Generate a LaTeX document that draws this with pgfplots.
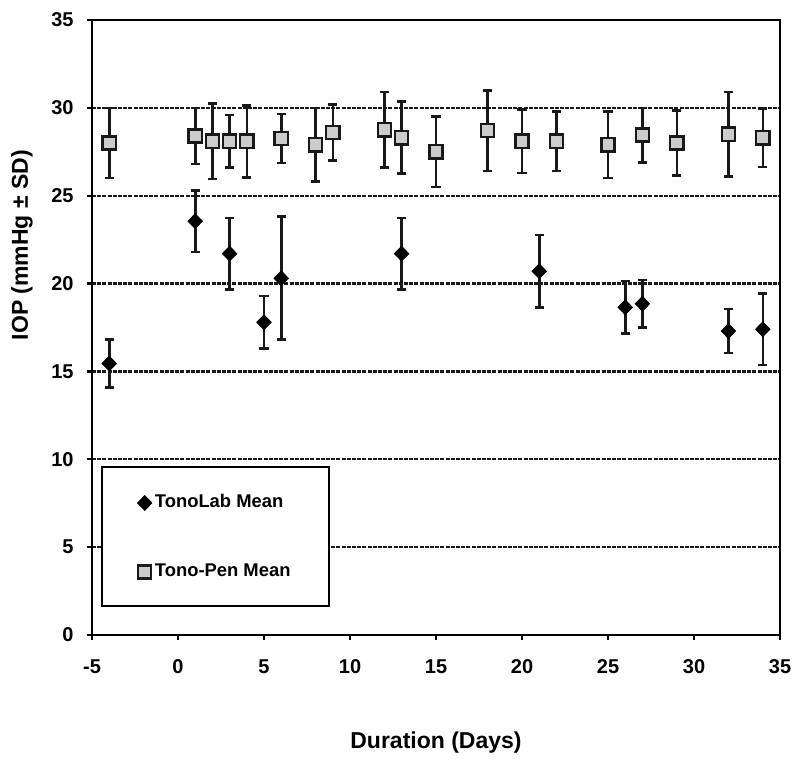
\documentclass[border=0pt]{standalone}
\usepackage{pgfplots}
\pgfplotsset{compat=1.18}
\usepackage{pgfplotstable}
\usepackage{fontspec}
\setmainfont{Liberation Sans}

\pgfplotstableread{
x y e
-4 15.45 1.35
1 23.55 1.75
3 21.7 2.03
5 17.8 1.5
6 20.3 3.5
13 21.7 2.03
21 20.7 2.07
26 18.65 1.5
27 18.85 1.35
32 17.3 1.25
34 17.4 2.04
}\tonolab

\pgfplotstableread{
x y e
-4 28.0 2.0
1 28.4 1.6
2 28.1 2.15
3 28.1 1.5
4 28.1 2.05
6 28.25 1.4
8 27.9 2.1
9 28.6 1.6
12 28.75 2.15
13 28.3 2.05
15 27.5 2.0
18 28.7 2.3
20 28.1 1.8
22 28.1 1.7
25 27.9 1.9
27 28.45 1.55
29 28.0 1.85
32 28.5 2.4
34 28.3 1.66
}\tonopen

\begin{document}
\begin{tikzpicture}
\begin{axis}[
  scale only axis,
  width=344pt, height=307.5pt,
  xmin=-5, xmax=35, ymin=0, ymax=35,
  xtick={-5,0,...,35}, ytick={0,5,...,35},
  tick pos=left,
  tick align=outside,
  major tick length=2.7pt,
  axis line style={line width=1.2pt},
  every tick/.style={black, line width=1.1pt},
  ymajorgrids,
  major grid style={black!90, line width=1.1pt, dash pattern=on 2pt off 0.6pt},
  /pgf/number format/assume math mode=true,
  ticklabel style={font=\fontsize{10}{12}\selectfont\bfseries},
  yticklabel style={xshift=-3pt},
  xticklabel style={yshift=-6pt},
  xlabel={Duration (Days)},
  ylabel={IOP (mmHg ± SD)},
  label style={font=\fontsize{11.5}{13}\selectfont\bfseries},
  xlabel style={at={(axis description cs:0.5,0)}, anchor=center, yshift=-54pt},
  ylabel style={at={(axis description cs:0,0.634)}, anchor=center, rotate=0, yshift=35pt},
  legend style={at={(axis cs:-2.38,5.55)}, anchor=west, draw=none, fill=none,
    inner sep=0pt, row sep=25.5pt,
    font=\fontsize{9.2}{11}\selectfont\bfseries,
    nodes={text height=7pt, text depth=2pt, inner xsep=1.5pt, inner ysep=0pt}},
  legend cell align=left,
  legend image code/.code={\draw[#1] plot coordinates {(0pt,0pt)};},
  errstyle/.style={only marks, mark=none, forget plot,
    error bars/.cd, y dir=both, y explicit,
    error bar style={line width=1.3pt, black!90, solid},
    error mark options={rotate=90, mark size=2.3pt, line width=1.3pt, black!90}},
]
\addplot[errstyle] table[x=x, y=y, y error=e] {\tonolab};
\addplot[errstyle] table[x=x, y=y, y error=e] {\tonopen};
\addplot[only marks, mark=diamond*, mark size=3.7pt,
  mark options={xscale=1.3, fill=black, draw=black}]
  table[x=x, y=y] {\tonolab};
\addlegendentry{TonoLab Mean}
\addplot[only marks, mark=square*, mark size=3.3pt,
  mark options={fill=black!20, draw=black!90, line width=1.2pt}]
  table[x=x, y=y] {\tonopen};
\addlegendentry{Tono-Pen Mean}
\draw[line width=1.1pt, fill=white] (axis cs:-4.42,9.56) rectangle (axis cs:8.78,1.67);
\end{axis}
\path ([shift={(-46pt,-64.5pt)}]current axis.south west) rectangle ([shift={(10pt,10pt)}]current axis.north east);
\end{tikzpicture}
\end{document}
